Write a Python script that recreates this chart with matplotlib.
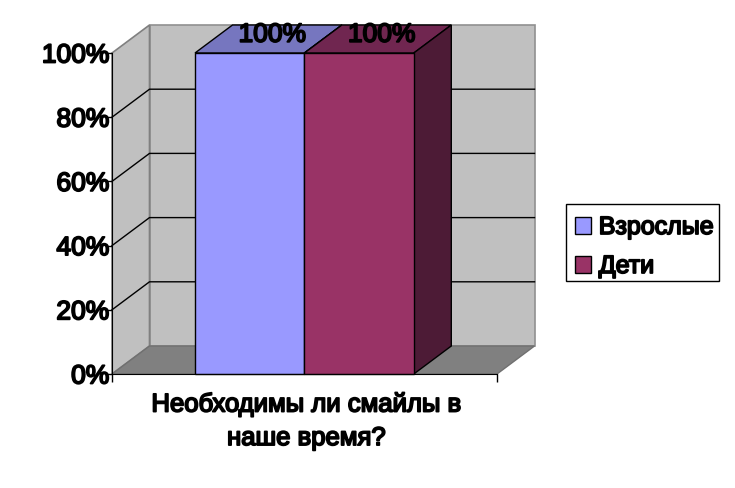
import matplotlib
matplotlib.use('Agg')
import matplotlib.pyplot as plt
from matplotlib.patches import Polygon, Patch, Rectangle
from matplotlib import patheffects as pe

category = 'Необходимы ли смайлы в\nнаше время?'
series = ['Взрослые', 'Дети']
values = [100, 100]
y_ticks = [0, 20, 40, 60, 80, 100]
y_labels = ['0%', '20%', '40%', '60%', '80%', '100%']

front = ['#9999FF', '#993366']
top = ['#7676BF', '#702650']
side = ['#5A5A99', '#4D1B36']

W, H = 735, 489
fig = plt.figure(figsize=(W / 100, H / 100), dpi=100)
ax = fig.add_axes([112 / W, 1 - 375 / H, 385 / W, 321 / H])
ax.set_xlim(0, 1)
ax.set_ylim(0, 100)
ax.patch.set_visible(False)

# depth of the fake 3d box, in data units
dx = 37.5 / 385
dy = 28 / 321 * 100
gap = 83 / 385
bar_w = 109.4 / 385

font = dict(family=['Liberation Sans', 'DejaVu Sans'], color='black')
bold = [pe.withStroke(linewidth=1.3, foreground='black')]
fs = 19


def poly(pts, fc, ec='black', lw=1.0, z=2):
    ax.add_patch(Polygon(pts, closed=True, facecolor=fc, edgecolor=ec, linewidth=lw, zorder=z, clip_on=False))


# walls and floor
poly([(dx, dy), (1 + dx, dy), (1 + dx, 100 + dy), (dx, 100 + dy)], '#C0C0C0', '#909090', 1.2, 1)
poly([(0, 0), (dx, dy), (dx, 100 + dy), (0, 100)], '#C0C0C0', '#808080', 1.2, 1)
poly([(0, 0), (1, 0), (1 + dx, dy), (dx, dy)], '#808080', '#707070', 1.0, 1.1)

# gridlines, side wall then back wall
for t in y_ticks[1:-1]:
    ax.plot([0, dx, 1 + dx], [t, t + dy, t + dy], color='black', lw=1.0, zorder=1.5, clip_on=False)

# bars
for i, v in enumerate(values):
    x0 = gap + i * bar_w
    x1 = x0 + bar_w
    poly([(x0, v), (x1, v), (x1 + dx, v + dy), (x0 + dx, v + dy)], top[i], z=3)
    poly([(x1, 0), (x1 + dx, dy), (x1 + dx, v + dy), (x1, v)], side[i], z=3)
for i, v in enumerate(values):
    x0 = gap + i * bar_w
    poly([(x0, 0), (x0 + bar_w, 0), (x0 + bar_w, v), (x0, v)], front[i], z=4)
    ax.text(x0 + bar_w / 2 + dx * 0.6, v + dy * 0.65, '%d%%' % v, ha='center', va='center', fontsize=fs,
            zorder=5, clip_on=False, path_effects=bold, **font)

# axes
for s in ['top', 'right']:
    ax.spines[s].set_visible(False)
for s in ['left', 'bottom']:
    ax.spines[s].set_zorder(6)
ax.set_yticks(y_ticks)
ax.set_yticklabels(y_labels, path_effects=bold, fontsize=fs, **font)
ax.tick_params(axis='y', length=4, width=1, pad=-2)
ax.set_xticks([0, 1], minor=True)
ax.tick_params(axis='x', which='minor', length=6, width=1)
ax.set_xticks([0.505])
ax.set_xticklabels([category], path_effects=bold, fontsize=18.5, linespacing=1.5, **font)
ax.tick_params(axis='x', which='major', length=0, pad=13)

# legend frame drawn apart, the text sits low in the box
fig.add_artist(Rectangle((566 / W, 1 - 282 / H), 153 / W, 77 / H, transform=fig.transFigure,
                         facecolor='white', edgecolor='black', linewidth=1))
handles = [Patch(facecolor=front[i], edgecolor='black', label=series[i]) for i in range(len(series))]
leg = fig.legend(handles=handles, loc='upper left', bbox_to_anchor=(575 / W, 1 - 216 / H),
                 bbox_transform=fig.transFigure, frameon=False,
                 borderaxespad=0, handlelength=0.65, handleheight=0.65, handletextpad=0.3,
                 labelspacing=0.6, borderpad=0, prop=dict(family='Liberation Sans', size=18))
for t in leg.get_texts():
    t.set_path_effects(bold)

fig.savefig('out.png', dpi=100, facecolor='white')
